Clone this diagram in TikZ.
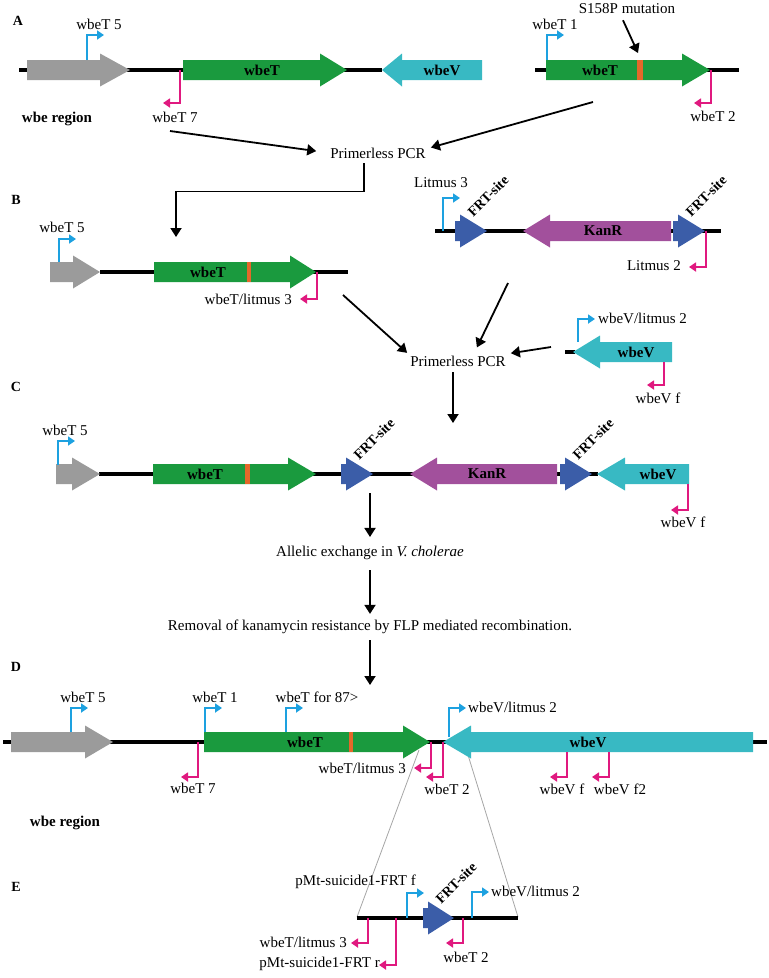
\documentclass[tikz,border=0pt]{standalone}
\usepackage{fontspec}
\setmainfont{Liberation Serif}
\usetikzlibrary{arrows.meta}
\definecolor{wbegray}{HTML}{9B9B9B}
\definecolor{wbetgreen}{HTML}{1A9A3E}
\definecolor{wbevcyan}{HTML}{38B9C3}
\definecolor{kanpurple}{HTML}{A2509C}
\definecolor{frtblue}{HTML}{3B5DA8}
\definecolor{mutorange}{HTML}{E4682A}
\definecolor{primerblue}{HTML}{1DA1E0}
\definecolor{primerpink}{HTML}{E0197F}
\tikzstyle{dna}=[line width=4pt, black]
\tikzstyle{fwd}=[draw=primerblue, line width=2.2pt, -{Triangle[length=7pt,width=9pt]}]
\tikzstyle{rev}=[draw=primerpink, line width=2.2pt, -{Triangle[length=7pt,width=9pt]}]
\tikzstyle{flow}=[line width=1.8pt, -{Triangle[length=9pt,width=11pt]}]
\tikzstyle{lbl}=[font=\fontsize{15}{18}\selectfont, inner sep=0pt]
\tikzstyle{gname}=[font=\bfseries\fontsize{15}{18}\selectfont, inner sep=0pt]
\tikzstyle{panel}=[font=\bfseries\fontsize{14}{17}\selectfont, inner sep=0pt]
\tikzstyle{frtlbl}=[font=\bfseries\fontsize{14}{17}\selectfont, inner sep=0pt, rotate=45]
\tikzstyle{zoomline}=[draw=black!35, line width=0.8pt]
% gene arrows: start, head start, tip, y, colour
\newcommand{\generight}[5]{\fill[#5] (#1,#4-10) -- (#2,#4-10) -- (#2,#4-16.5) -- (#3,#4) -- (#2,#4+16.5) -- (#2,#4+10) -- (#1,#4+10) -- cycle;}
\newcommand{\geneleft}[5]{\fill[#5] (#1,#4) -- (#2,#4-16.5) -- (#2,#4-10) -- (#3,#4-10) -- (#3,#4+10) -- (#2,#4+10) -- (#2,#4+16.5) -- cycle;}
% primers: x, base y, bend y
\newcommand{\fwdprimer}[3]{\draw[fwd] (#1,#2) |- (#1+17,#3);}
\newcommand{\revprimer}[3]{\draw[rev] (#1,#2) |- (#1-17,#3);}

\begin{document}
\begin{tikzpicture}[x=1pt,y=-1pt]
\useasboundingbox (0,0) rectangle (769,978);

% A
\node[panel] (pA) at (18,21) {A};
\draw[dna] (19,70) -- (382,70);
\draw[dna] (535,70) -- (739,70);
\generight{27}{100}{130}{70}{wbegray}
\generight{183}{320}{347}{70}{wbetgreen}
\geneleft{382}{402}{482}{70}{wbevcyan}
\generight{546}{682}{710}{70}{wbetgreen}
\fill[mutorange] (637,60) rectangle (643,80);
\node[gname] (gTa) at (262,70) {wbeT};
\node[gname] (gVa) at (442,70) {wbeV};
\node[gname] (gTb) at (600,70) {wbeT};
\fwdprimer{87}{60}{35}
\fwdprimer{547}{60}{35}
\revprimer{180}{70}{103}
\revprimer{711}{70}{103}
\node[lbl] (t5a) at (99,24) {wbeT 5};
\node[lbl] (t1a) at (555,24) {wbeT 1};
\node[lbl] (t7a) at (175,117) {wbeT 7};
\node[lbl] (t2a) at (713,116) {wbeT 2};
\node[lbl] (mut) at (627,9) {S158P mutation};
\node[gname] (regA) at (57,119) {wbe region};
\coordinate (mutTip) at (638,53);
\draw[flow] ([xshift=-4pt,yshift=-6pt]mut.south) -- (mutTip);

\node[lbl] (pcrA) at (378,153) {Primerless PCR};
\coordinate (a1s) at (170,131);
\coordinate (a2s) at (593,102);
\draw[flow, shorten >=14pt] (a1s) -- (pcrA.west);
\draw[flow] (a2s) -- ([xshift=5pt]pcrA.north east);
\coordinate (bIn) at (176,237);
\draw[flow, shorten <=5pt] ([xshift=-14pt]pcrA.south) -- ++(0,33) -| (bIn);

% B
\node[panel] (pB) at (16,200) {B};
\draw[dna] (100,272) -- (348,272);
\generight{50}{73}{100}{272}{wbegray}
\generight{154}{290}{316}{272}{wbetgreen}
\fill[mutorange] (247,262) rectangle (251,282);
\node[gname] (gTc) at (208,272) {wbeT};
\fwdprimer{59}{262}{239}
\revprimer{317}{272}{299}
\node[lbl] (t5b) at (62,227) {wbeT 5};
\node[lbl, anchor=east] (tl3b) at (292,299) {wbeT/litmus 3};

\draw[dna] (435,231) -- (721,231);
\generight{455}{460}{487}{231}{frtblue}
\geneleft{523}{550}{671}{231}{kanpurple}
\generight{673}{678}{705}{231}{frtblue}
\node[gname] (kanB) at (603,231) {KanR};
\node[frtlbl] (frtB1) at (488,196) {FRT-site};
\node[frtlbl] (frtB2) at (706,196) {FRT-site};
\fwdprimer{443}{231}{198}
\revprimer{706}{231}{267}
\node[lbl] (l3b) at (441,183) {Litmus 3};
\node[lbl, anchor=east] (l2b) at (681,266) {Litmus 2};

\draw[dna] (565,352) -- (575,352);
\geneleft{573}{600}{672}{352}{wbevcyan}
\node[gname] (gVb) at (636,352) {wbeV};
\fwdprimer{578}{342}{319}
\revprimer{664}{362}{385}
\node[lbl, anchor=west] (vl2b) at (598,318) {wbeV/litmus 2};
\node[lbl] (vfb) at (658,398) {wbeV f};

\node[lbl] (pcrB) at (458,361) {Primerless PCR};
\coordinate (b1s) at (343,295);
\coordinate (b2s) at (508,283);
\coordinate (b3s) at (551,347);
\draw[flow, shorten >=4pt] (b1s) -- (pcrB.north west);
\draw[flow, shorten >=9pt] (b2s) -- ([xshift=15pt]pcrB.north);
\draw[flow, shorten >=5pt] (b3s) -- ([yshift=7pt]pcrB.east);
\coordinate (cIn) at (453,423);
\draw[flow, shorten <=6pt] ([xshift=-5pt]pcrB.south) -- (cIn);

% C
\node[panel] (pC) at (16,387) {C};
\draw[dna] (99,474) -- (598,474);
\generight{56}{72}{100}{474}{wbegray}
\generight{153}{288}{316}{474}{wbetgreen}
\fill[mutorange] (245,464) rectangle (250,484);
\generight{341}{346}{373}{474}{frtblue}
\geneleft{410}{437}{557}{474}{kanpurple}
\generight{560}{565}{592}{474}{frtblue}
\geneleft{597}{625}{689}{474}{wbevcyan}
\node[gname] (gTd) at (205,474) {wbeT};
\node[gname] (kanC) at (487,474) {KanR};
\node[gname] (gVc) at (658,474) {wbeV};
\node[frtlbl] (frtC1) at (374,439) {FRT-site};
\node[frtlbl] (frtC2) at (593,439) {FRT-site};
\fwdprimer{58}{465}{441}
\revprimer{688}{484}{510}
\node[lbl] (t5c) at (65,430) {wbeT 5};
\node[lbl] (vfc) at (683,522) {wbeV f};

\node[lbl] (allelic) at (370,553) {Allelic exchange in \textit{V. cholerae}};
\node[lbl] (removal) at (370,627) {Removal of kanamycin resistance by FLP mediated recombination.};
\coordinate (c1s) at (370,493);
\draw[flow, shorten >=9pt] (c1s) -- (allelic.north);
\draw[flow, shorten <=10pt, shorten >=6pt] (allelic.south) -- (removal.north);
\coordinate (dIn) at (370,685);
\draw[flow, shorten <=6pt] (removal.south) -- (dIn);

% D
\node[panel] (pD) at (16,667) {D};
\draw[dna] (3,742) -- (767,742);
\draw[zoomline] (419,750) -- (357,917);
\draw[zoomline] (468,755) -- (518,917);
\generight{11}{85}{113}{742}{wbegray}
\generight{204}{403}{430}{742}{wbetgreen}
\fill[mutorange] (349,732) rectangle (353,752);
\geneleft{443}{471}{753}{742}{wbevcyan}
\node[gname] (gTe) at (305,742) {wbeT};
\node[gname] (gVd) at (588,742) {wbeV};
\fwdprimer{71}{732}{708}
\fwdprimer{205}{732}{708}
\fwdprimer{286}{732}{708}
\fwdprimer{449}{737}{708}
\revprimer{198}{742}{777}
\revprimer{431}{742}{768}
\revprimer{443}{742}{777}
\revprimer{567}{752}{777}
\revprimer{609}{752}{777}
\node[lbl] (t5d) at (83,697) {wbeT 5};
\node[lbl] (t1d) at (215,697) {wbeT 1};
\node[lbl] (t87d) at (317,697) {wbeT for 87>};
\node[lbl, anchor=west] (vl2d) at (468,707) {wbeV/litmus 2};
\node[lbl] (t7d) at (193,788) {wbeT 7};
\node[lbl, anchor=east] (tl3d) at (406,768) {wbeT/litmus 3};
\node[lbl] (t2d) at (447,789) {wbeT 2};
\node[lbl] (vfd) at (562,789) {wbeV f};
\node[lbl] (vf2d) at (620,789) {wbeV f2};
\node[gname] (regD) at (65,823) {wbe region};

% E
\node[panel] (pE) at (16,887) {E};
\draw[dna] (357,918) -- (518,918);
\generight{423}{428}{454}{918}{frtblue}
\node[frtlbl] (frtE) at (456,883) {FRT-site};
\fwdprimer{407}{918}{893}
\fwdprimer{472}{918}{892}
\revprimer{368}{918}{943}
\revprimer{396}{918}{965}
\revprimer{463}{918}{943}
\node[lbl, anchor=east] (pmf) at (416,882) {pMt-suicide1-FRT f};
\node[lbl, anchor=west] (vl2e) at (491,891) {wbeV/litmus 2};
\node[lbl, anchor=east] (tl3e) at (347,942) {wbeT/litmus 3};
\node[lbl, anchor=east] (pmr) at (380,964) {pMt-suicide1-FRT r};
\node[lbl] (t2e) at (466,957) {wbeT 2};
\end{tikzpicture}
\end{document}
